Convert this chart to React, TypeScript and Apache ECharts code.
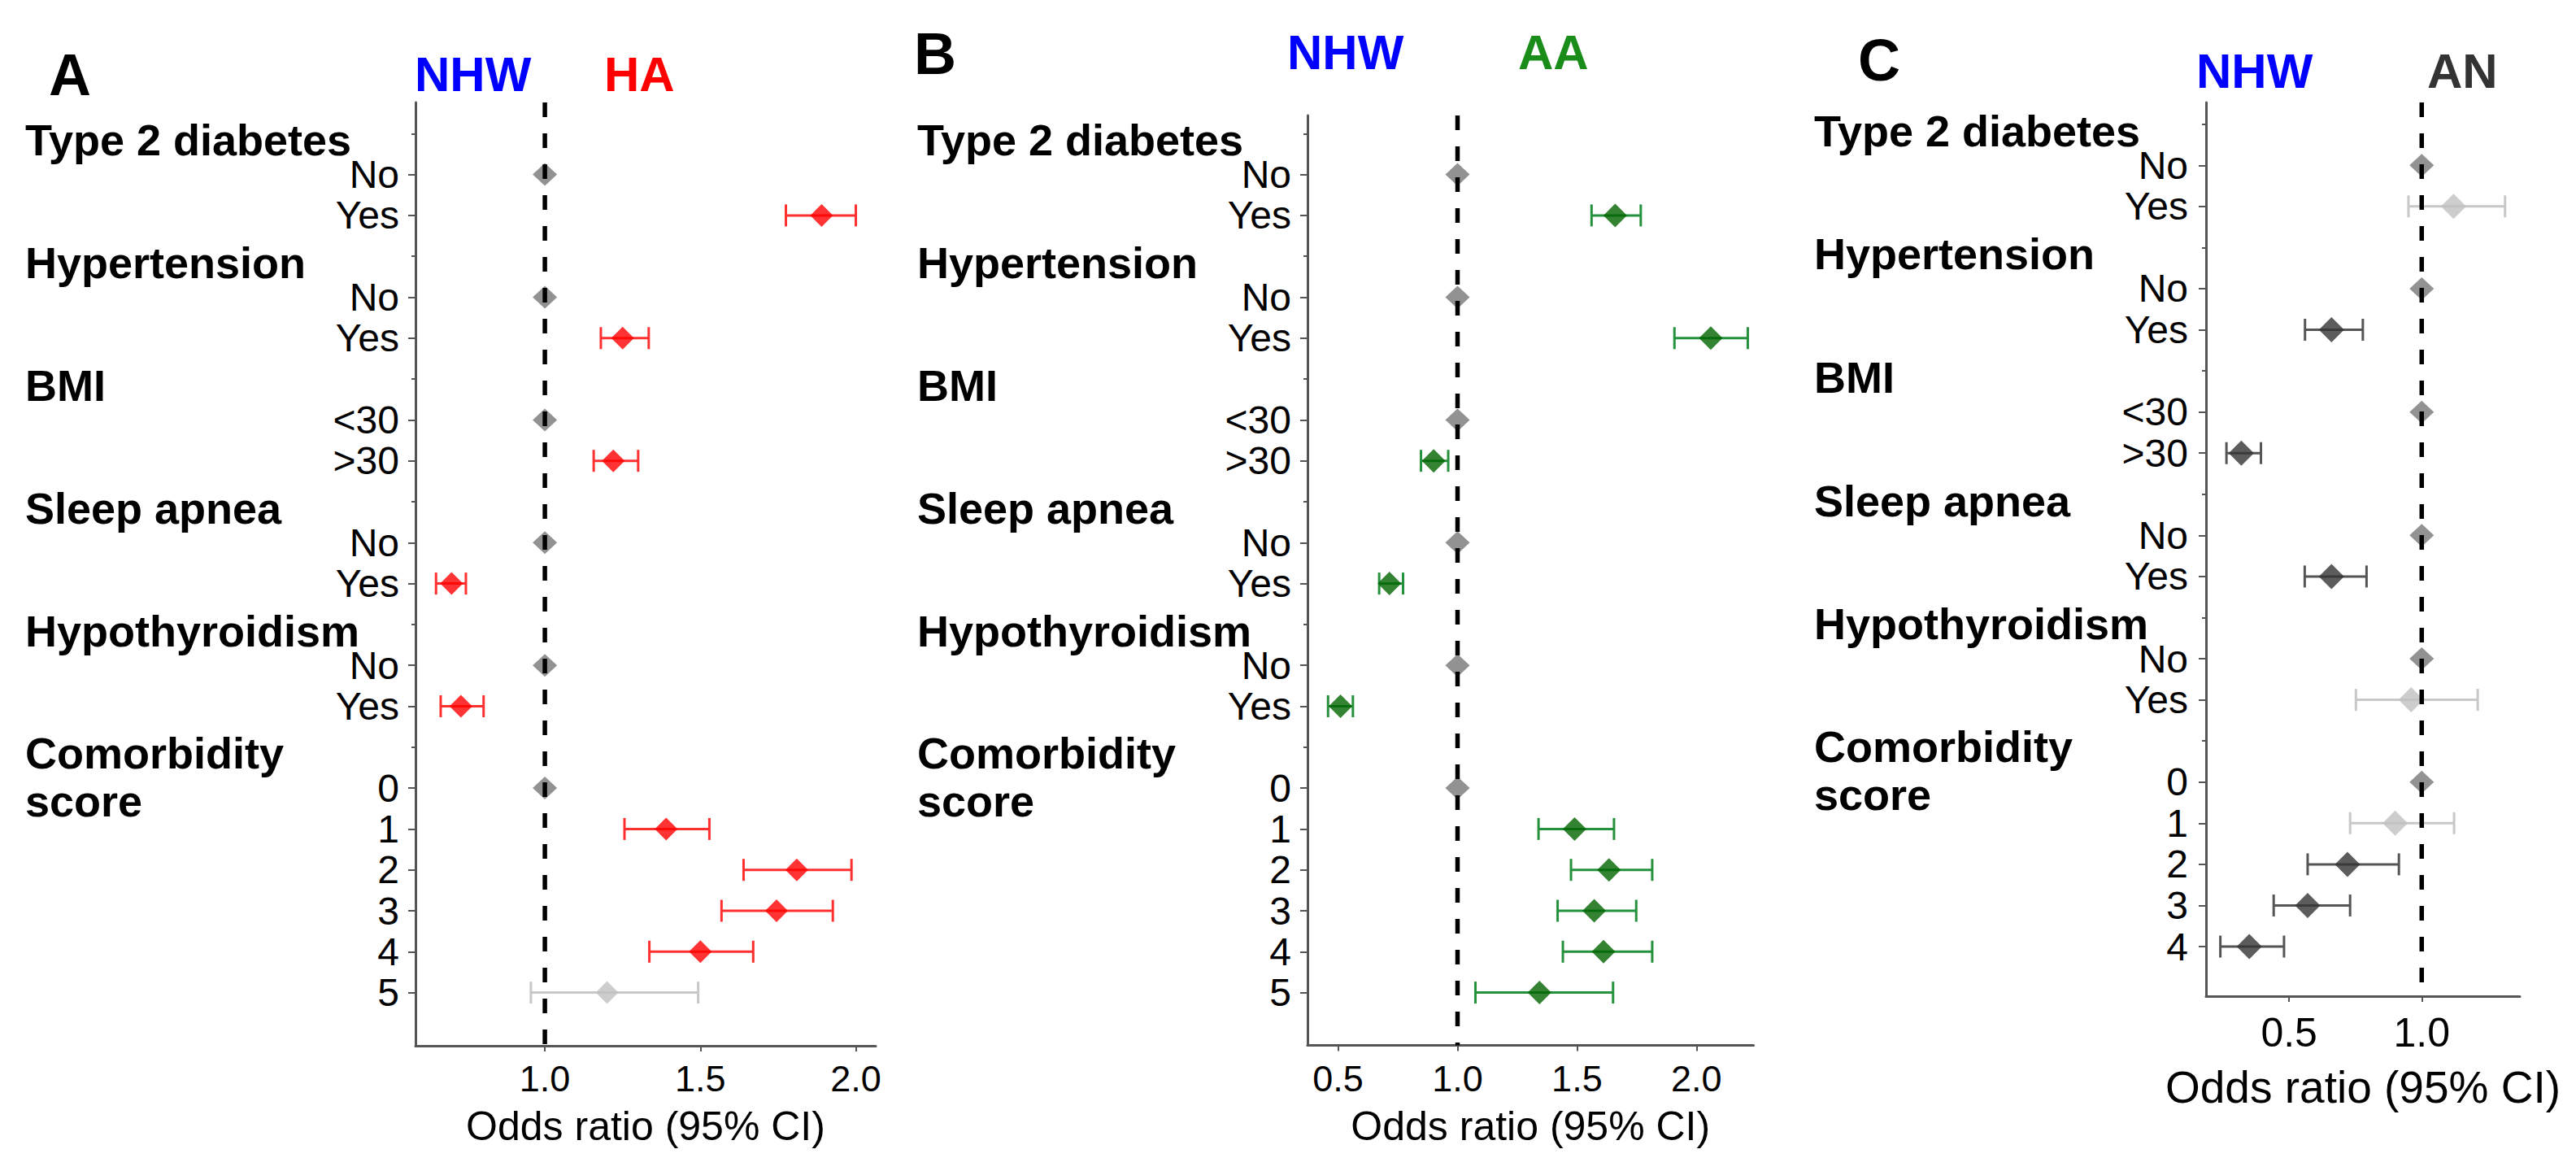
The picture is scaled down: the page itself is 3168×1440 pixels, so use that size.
import React, { useEffect, useRef } from "react";
import * as echarts from "echarts";

const FONT = "'Liberation Sans', Arial, Helvetica, sans-serif";

// ---------- data ----------
const HEADERS = ["Type 2 diabetes", "Hypertension", "BMI", "Sleep apnea", "Hypothyroidism", "Comorbidity\nscore"];
const CATEGORIES_AB = [
  "Type 2 diabetes", "No", "Yes",
  "Hypertension", "No", "Yes",
  "BMI", "<30", ">30",
  "Sleep apnea", "No", "Yes",
  "Hypothyroidism", "No", "Yes",
  "Comorbidity\nscore", "0", "1", "2", "3", "4", "5",
];
const CATEGORIES_C = [
  "Type 2 diabetes", "No", "Yes",
  "Hypertension", "No", "Yes",
  "BMI", "<30", ">30",
  "Sleep apnea", "No", "Yes",
  "Hypothyroidism", "No", "Yes",
  "Comorbidity\nscore", "0", "1", "2", "3", "4",
];

// Panel A (NHW vs HA)
const OR_A = [1, 1.89, 1, 1.25, 1, 1.22, 1, 0.70, 1, 0.73, 1, 1.39, 1.81, 1.745, 1.50, 1.20];
const LO_A = [null, 1.775, null, 1.18, null, 1.157, null, 0.65, null, 0.665, null, 1.256, 1.639, 1.568, 1.336, 0.955];
const HI_A = [null, 2.0, null, 1.334, null, 1.30, null, 0.746, null, 0.803, null, 1.529, 1.986, 1.926, 1.67, 1.493];
const NS_A = [false, false, false, false, false, false, false, false, false, false, false, false, false, false, false, true];

// Panel B (NHW vs AA)
const OR_B = [1, 1.66, 1, 2.06, 1, 0.90, 1, 0.715, 1, 0.51, 1, 1.49, 1.634, 1.572, 1.611, 1.343];
const LO_B = [null, 1.561, null, 1.908, null, 0.847, null, 0.672, null, 0.458, null, 1.339, 1.475, 1.419, 1.441, 1.075];
const HI_B = [null, 1.767, null, 2.215, null, 0.961, null, 0.772, null, 0.562, null, 1.655, 1.815, 1.748, 1.815, 1.651];
const NS_B = [false, false, false, false, false, false, false, false, false, false, false, false, false, false, false, false];

// Panel C (NHW vs AN)
const OR_C = [1, 1.12, 1, 0.66, 1, 0.32, 1, 0.66, 1, 0.96, 1, 0.90, 0.72, 0.57, 0.35];
const LO_C = [null, 0.95, null, 0.56, null, 0.264, null, 0.559, null, 0.752, null, 0.73, 0.57, 0.442, 0.241];
const HI_C = [null, 1.314, null, 0.778, null, 0.394, null, 0.792, null, 1.211, null, 1.122, 0.914, 0.73, 0.481];
const NS_C = [false, true, false, false, false, false, false, false, false, true, false, true, false, false, false];

const TICKS_A = [1.0, 1.5, 2.0];
const TICKS_B = [0.5, 1.0, 1.5, 2.0];
const TICKS_C = [0.5, 1.0];

const X_TITLE = "Odds ratio (95% CI)";

// ---------- layout / style ----------
const AXIS_COLOR = "#555555";
const REF_COLOR = "#777777";
const NS_DIA = "#c0c0c0";
const NS_BAR = "#c8c8c8";

const PANELS = [
  {
    cats: CATEGORIES_AB, or: OR_A, lo: LO_A, hi: HI_A, ns: NS_A, ticks: TICKS_A,
    xMin: 0.584, xMax: 2.064,
    frame: { left: 511, top: 126, width: 566, height: 1160 },
    rows: { left: 511, top: 139.15, width: 566, height: 1106.6 },
    dia: "#ff0000", bar: "#ff3030", diaSize: 28,
    labelMargin: 20, tickFont: 45, titleFont: 50, titleGap: 74, labelGap: 18,
  },
  {
    cats: CATEGORIES_AB, or: OR_B, lo: LO_B, hi: HI_B, ns: NS_B, ticks: TICKS_B,
    xMin: 0.372, xMax: 2.239,
    frame: { left: 1608, top: 142, width: 548.5, height: 1143.5 },
    rows: { left: 1608, top: 139.15, width: 548.5, height: 1106.6 },
    dia: "#006400", bar: "#25913c", diaSize: 29,
    labelMargin: 20, tickFont: 45, titleFont: 50, titleGap: 74, labelGap: 18,
  },
  {
    cats: CATEGORIES_C, or: OR_C, lo: LO_C, hi: HI_C, ns: NS_C, ticks: TICKS_C,
    xMin: 0.187, xMax: 1.37,
    frame: { left: 2713, top: 126, width: 386, height: 1099 },
    rows: { left: 2713, top: 127.4, width: 386, height: 1061.9 },
    dia: "#333333", bar: "#555555", diaSize: 31,
    labelMargin: 22, tickFont: 50, titleFont: 55, titleGap: 84, labelGap: 20,
  },
];

const TITLES = [
  { text: "A", x: 60, y: 92, size: 72, color: "#000" },
  { text: "NHW", x: 510, y: 91, size: 60, color: "#0000ff" },
  { text: "HA", x: 743, y: 91, size: 60, color: "#ff0000" },
  { text: "B", x: 1124, y: 66, size: 72, color: "#000" },
  { text: "NHW", x: 1583, y: 64, size: 60, color: "#0000ff" },
  { text: "AA", x: 1867, y: 64, size: 60, color: "#1a8c1a" },
  { text: "C", x: 2285, y: 74, size: 72, color: "#000" },
  { text: "NHW", x: 2701, y: 87, size: 60, color: "#0000ff" },
  { text: "AN", x: 2985, y: 87, size: 60, color: "#333333" },
];

function buildOption() {
  const grid: any[] = [];
  const xAxis: any[] = [];
  const yAxis: any[] = [];
  const series: any[] = [];

  PANELS.forEach((p, pi) => {
    const isHeader = p.cats.map((c) => HEADERS.includes(c));
    const levelRows: number[] = [];
    isHeader.forEach((h, i) => { if (!h) levelRows.push(i); });

    grid.push({ ...p.frame, outerBoundsMode: "none", containLabel: false });
    grid.push({ ...p.rows, outerBoundsMode: "none", containLabel: false });

    xAxis.push({
      type: "value", gridIndex: pi * 2, min: p.xMin, max: p.xMax,
      axisLine: { show: true, onZero: false, lineStyle: { color: AXIS_COLOR, width: 3 } },
      axisTick: { show: true, customValues: p.ticks, length: 7, lineStyle: { color: AXIS_COLOR, width: 2 } },
      axisLabel: {
        show: true, customValues: p.ticks, formatter: (v: number) => v.toFixed(1),
        fontSize: p.tickFont, color: "#000", fontFamily: FONT, margin: p.labelGap,
      },
      splitLine: { show: false },
      name: X_TITLE, nameLocation: "middle", nameGap: p.titleGap, nameMoveOverlap: false,
      nameTextStyle: { fontSize: p.titleFont, color: "#000", fontFamily: FONT },
    });
    xAxis.push({ type: "value", gridIndex: pi * 2 + 1, min: p.xMin, max: p.xMax, show: false });

    yAxis.push({
      type: "value", gridIndex: pi * 2, min: 0, max: 1,
      axisLine: { show: true, onZero: false, lineStyle: { color: AXIS_COLOR, width: 3 } },
      axisTick: { show: false }, axisLabel: { show: false }, splitLine: { show: false },
    });
    yAxis.push({
      type: "category", gridIndex: pi * 2 + 1, data: p.cats, inverse: true, position: "left",
      axisLine: { show: false, onZero: false },
      axisTick: {
        show: true, alignWithLabel: true, length: 9,
        interval: (i: number) => !isHeader[i],
        lineStyle: { color: AXIS_COLOR, width: 2 },
      },
      splitLine: { show: false },
      axisLabel: {
        show: true, interval: 0, margin: p.labelMargin, color: "#000",
        fontSize: 48, fontFamily: FONT,
        formatter: (value: string, index: number) => {
          if (!isHeader[index]) return value;
          if (value.indexOf("\n") >= 0) {
            const parts = value.split("\n");
            return `{s| }\n{c|${parts[0]}}\n{c|${parts[1]}}`;
          }
          return `{t| }\n{h|${value}}`;
        },
        rich: {
          s: { fontSize: 10, lineHeight: 73, width: 460 },
          t: { fontSize: 10, lineHeight: 16, width: 460 },
          h: { fontSize: 54, fontWeight: "bold", fontFamily: FONT, color: "#000", width: 460, align: "left", lineHeight: 60 },
          c: { fontSize: 54, fontWeight: "bold", fontFamily: FONT, color: "#000", width: 460, align: "left", lineHeight: 59 },
        },
      },
    });
    yAxis.push({
      type: "category", gridIndex: pi * 2 + 1, data: p.cats, inverse: true, position: "left",
      axisLine: { show: false, onZero: false },
      axisTick: {
        show: true, alignWithLabel: true, length: 5,
        interval: (i: number) => isHeader[i],
        lineStyle: { color: AXIS_COLOR, width: 2 },
      },
      axisLabel: { show: false }, splitLine: { show: false },
    });

    series.push({
      type: "line", xAxisIndex: pi * 2, yAxisIndex: pi * 3, data: [[1, 1], [1, 0]],
      symbol: "none", silent: true, z: 5, animation: false,
      lineStyle: { color: "#000", width: 5.5, type: [18, 20] },
    });

    const barData: any[] = [];
    const barColors: string[] = [];
    p.or.forEach((_, k) => {
      const lo = p.lo[k];
      const hi = p.hi[k];
      if (lo == null || hi == null) return;
      barData.push([lo, hi, levelRows[k]]);
      barColors.push(p.ns[k] ? NS_BAR : p.bar);
    });
    series.push({
      type: "custom", xAxisIndex: pi * 2 + 1, yAxisIndex: pi * 3 + 1, z: 2,
      encode: { x: [0, 1], y: 2 }, data: barData, silent: true,
      renderItem: (params: any, api: any) => {
        const a = api.coord([api.value(0), api.value(2)]);
        const b = api.coord([api.value(1), api.value(2)]);
        const h = 13.5;
        const style = { stroke: barColors[params.dataIndex], lineWidth: 3, fill: "none" };
        return {
          type: "group",
          children: [
            { type: "line", shape: { x1: a[0], y1: a[1], x2: b[0], y2: b[1] }, style },
            { type: "line", shape: { x1: a[0], y1: a[1] - h, x2: a[0], y2: a[1] + h }, style },
            { type: "line", shape: { x1: b[0], y1: b[1] - h, x2: b[0], y2: b[1] + h }, style },
          ],
        };
      },
    });

    const diaData = p.or.map((v, k) => {
      const isRef = p.lo[k] == null;
      return {
        value: [v, levelRows[k]],
        symbolSize: isRef ? [30, 28] : [p.diaSize, p.diaSize],
        itemStyle: { color: isRef ? REF_COLOR : p.ns[k] ? NS_DIA : p.dia },
      };
    });
    series.push({
      type: "scatter", xAxisIndex: pi * 2 + 1, yAxisIndex: pi * 3 + 1, z: 3,
      symbol: "diamond", data: diaData, silent: true,
    });
  });

  const graphic = TITLES.map((t) => ({
    type: "text", x: t.x, y: t.y, silent: true,
    style: {
      text: t.text, fill: t.color, fontSize: t.size, fontWeight: "bold", fontFamily: FONT,
      textAlign: "left", textVerticalAlign: "middle",
    },
  }));

  return {
    animation: false,
    backgroundColor: "#ffffff",
    grid, xAxis, yAxis, series, graphic,
  };
}

export default function App() {
  const ref = useRef<HTMLDivElement>(null);
  useEffect(() => {
    document.body.style.margin = "0";
    if (!ref.current) return;
    const chart = echarts.init(ref.current, null, { renderer: "svg" });
    chart.setOption(buildOption() as any);
    return () => chart.dispose();
  }, []);
  return <div ref={ref} style={{ width: 3168, height: 1440 }} />;
}
